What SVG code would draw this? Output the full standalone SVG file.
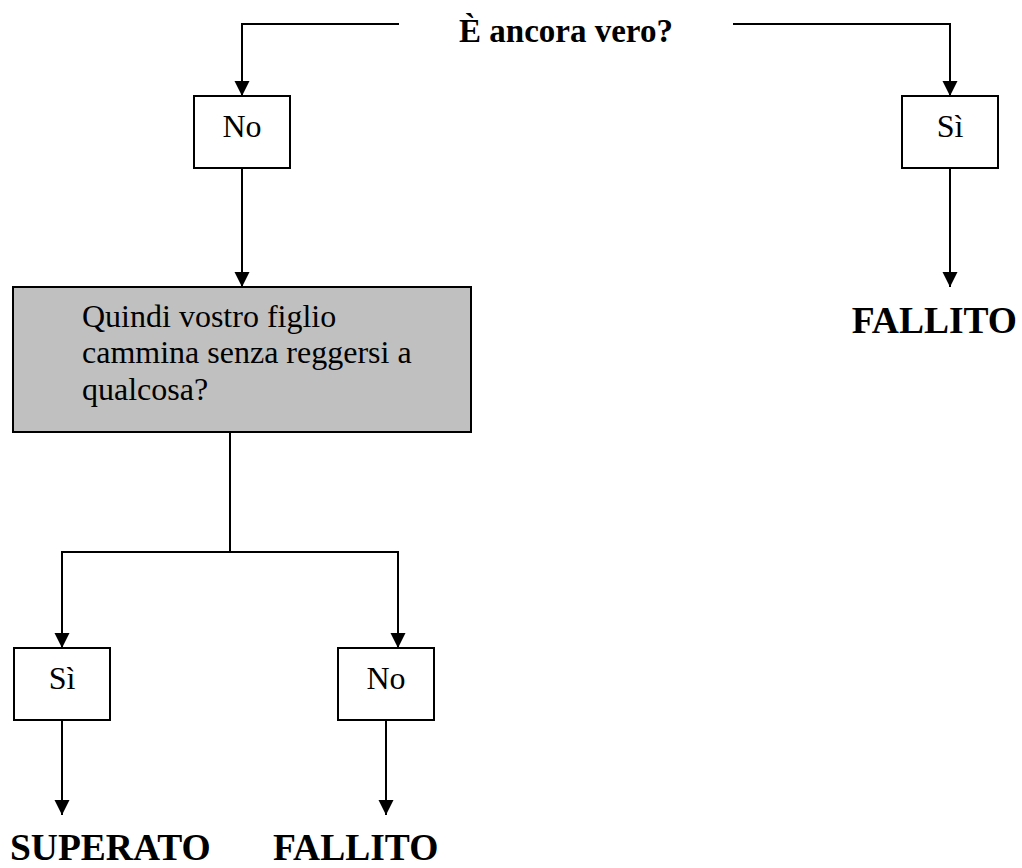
<svg xmlns="http://www.w3.org/2000/svg" width="1022" height="868" viewBox="0 0 1022 868">
<style>
.box{fill:#fff;stroke:#000;stroke-width:2}
.gray{fill:#c0c0c0;stroke:#000;stroke-width:2}
.conn{fill:none;stroke:#000;stroke-width:2}
.lbl{font-family:"Liberation Serif","Times New Roman",serif;font-size:32px;fill:#000}
.big{font-family:"Liberation Serif","Times New Roman",serif;font-size:37.5px;font-weight:bold;fill:#000}
.q{font-family:"Liberation Serif","Times New Roman",serif;font-size:33px;font-weight:bold;fill:#000}
</style>
<defs>
<marker id="ah" markerUnits="userSpaceOnUse" markerWidth="16" markerHeight="16" refX="15" refY="7.5" orient="auto">
<path d="M0,0 L15,7.5 L0,15 z" fill="#000"/>
</marker>
</defs>
<g id="question">
<text class="q" x="566" y="42" text-anchor="middle">È ancora vero?</text>
</g>
<g id="connectors">
<path class="conn" d="M399,24 H242 V96" marker-end="url(#ah)"/>
<path class="conn" d="M733,24 H950 V96" marker-end="url(#ah)"/>
<path class="conn" d="M242,168 V287" marker-end="url(#ah)"/>
<path class="conn" d="M950,168 V287" marker-end="url(#ah)"/>
<path class="conn" d="M230,432 V552"/>
<path class="conn" d="M230,552 H62 V648" marker-end="url(#ah)"/>
<path class="conn" d="M230,552 H398 V648" marker-end="url(#ah)"/>
<path class="conn" d="M62,720 V815" marker-end="url(#ah)"/>
<path class="conn" d="M386,720 V815" marker-end="url(#ah)"/>
</g>
<g id="no-top">
<rect class="box" x="194" y="96" width="96" height="72"/>
<text class="lbl" x="242" y="137" text-anchor="middle">No</text>
</g>
<g id="si-top">
<rect class="box" x="902" y="96" width="96" height="72"/>
<text class="lbl" x="950" y="137" text-anchor="middle">Sì</text>
</g>
<g id="fallito-top">
<text class="big" x="1017" y="333" text-anchor="end">FALLITO</text>
</g>
<g id="domanda">
<rect class="gray" x="13" y="287" width="458" height="145"/>
<text class="lbl" x="82" y="327">Quindi vostro figlio</text>
<text class="lbl" x="82" y="363">cammina senza reggersi a</text>
<text class="lbl" x="82" y="400">qualcosa?</text>
</g>
<g id="si-bottom">
<rect class="box" x="14" y="648" width="96" height="72"/>
<text class="lbl" x="62" y="689" text-anchor="middle">Sì</text>
</g>
<g id="no-bottom">
<rect class="box" x="338" y="648" width="96" height="72"/>
<text class="lbl" x="386" y="689" text-anchor="middle">No</text>
</g>
<g id="superato">
<text class="big" x="10" y="860">SUPERATO</text>
</g>
<g id="fallito-bottom">
<text class="big" x="273" y="860">FALLITO</text>
</g>
</svg>
